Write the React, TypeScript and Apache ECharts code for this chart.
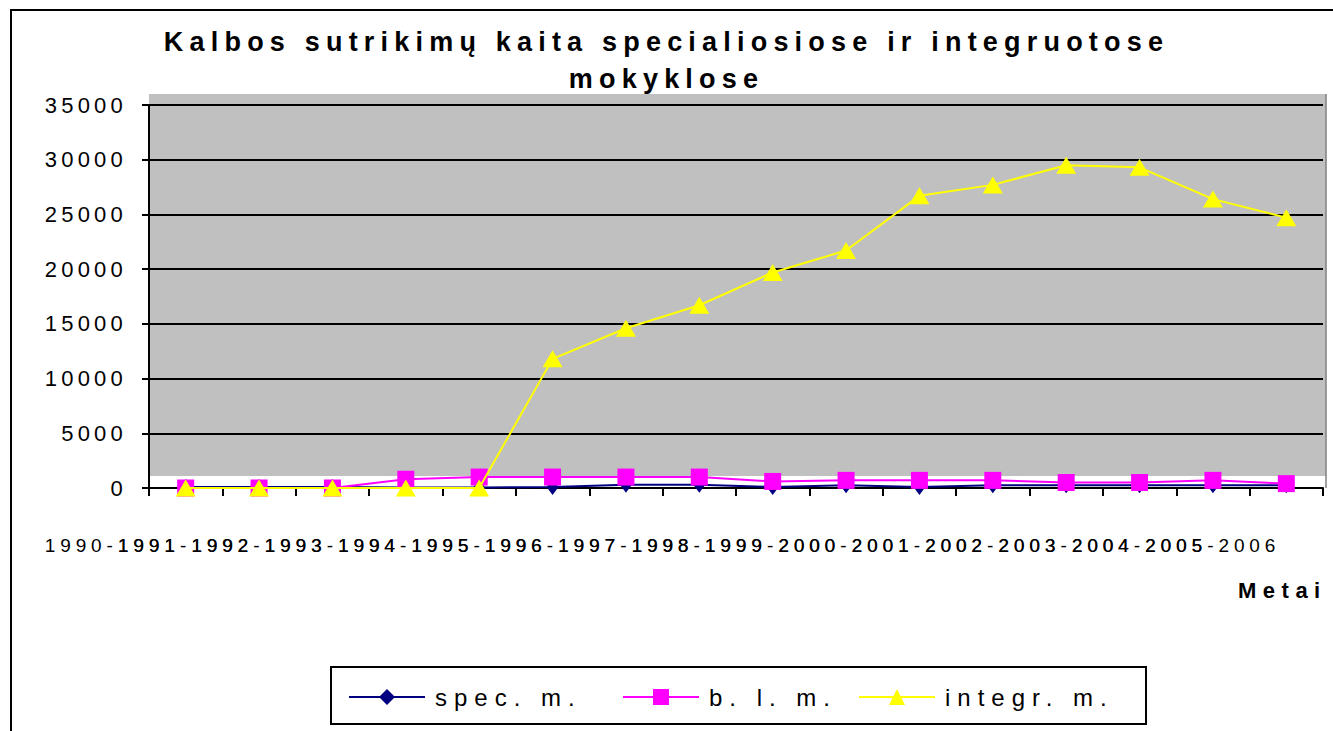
import React, { useEffect, useRef } from "react";
import * as echarts from "echarts";

const TITLE = "Kalbos sutrikimų kaita specialiosiose ir integruotose\nmokyklose";
const X_NAME = "Metai";
const CATEGORIES = [
  "1990-1991", "1991-1992", "1992-1993", "1993-1994", "1994-1995", "1995-1996",
  "1996-1997", "1997-1998", "1998-1999", "1999-2000", "2000-2001", "2001-2002",
  "2002-2003", "2003-2004", "2004-2005", "2005-2006",
];
const SERIES_NAMES = ["spec. m.", "b. l. m.", "integr. m."];
const SPEC = [100, 100, 100, 50, 50, 100, 300, 300, 100, 250, 100, 250, 250, 250, 250, 250];
const BLM = [0, 0, 0, 800, 1000, 1000, 1000, 1000, 600, 700, 700, 700, 500, 500, 700, 400];
const INTEGR = [0, 0, 0, 0, 0, 11800, 14600, 16700, 19700, 21700, 26700, 27700, 29500, 29300, 26400, 24700];
const Y_MIN = 0;
const Y_MAX = 35000;
const Y_STEP = 5000;

const FONT = "'Liberation Sans', Arial, sans-serif";

export default function App() {
  const ref = useRef<HTMLDivElement>(null);

  useEffect(() => {
    document.body.style.margin = "0";
    const el = ref.current!;
    const chart = echarts.init(el, null, { renderer: "svg" });

    const colors = ["#000080", "#FF00FF", "#FFFF00"];
    const symbols = ["diamond", "rect", "triangle"];
    const sizes: any[] = [[12, 16], 17, [20, 17]];
    const datas = [SPEC, BLM, INTEGR];
    const legendLeft = [348, 622, 858];

    const option: any = {
      animation: false,
      backgroundColor: "#fff",
      title: {
        text: TITLE,
        left: "center",
        top: 18,
        textStyle: {
          fontFamily: FONT,
          fontSize: 27,
          fontWeight: "bold",
          color: "#000",
          lineHeight: 37,
        },
      },
      grid: { left: 149, right: 10, top: 105, bottom: 243, containLabel: false },
      legend: SERIES_NAMES.map((name, i) => ({
        data: [name],
        left: legendLeft[i],
        top: 685,
        padding: 0,
        itemWidth: 76,
        itemHeight: 20,
        selectedMode: false,
        textStyle: { fontFamily: FONT, fontSize: 24, color: "#000", padding: [0, 0, 0, 5] },
      })),
      xAxis: {
        type: "category",
        data: CATEGORIES,
        boundaryGap: true,
        axisLine: { show: true, lineStyle: { color: "#000", width: 2 } },
        axisTick: { show: true, interval: 0, length: 8, lineStyle: { color: "#000", width: 2 } },
        axisLabel: {
          interval: 0,
          align: "right",
          margin: 48,
          fontFamily: FONT,
          fontSize: 19,
          color: "#000",
          hideOverlap: false,
          padding: [0, 6, 0, 0],
        },
        splitLine: { show: false },
      },
      yAxis: {
        type: "value",
        min: Y_MIN,
        max: Y_MAX,
        interval: Y_STEP,
        axisLine: { show: true, lineStyle: { color: "#000", width: 2 } },
        axisTick: { show: true, length: 7, lineStyle: { color: "#000", width: 2 } },
        axisLabel: {
          margin: 22,
          fontFamily: FONT,
          fontSize: 22,
          color: "#000",
          formatter: (v: number) => String(v),
        },
        splitLine: { show: true, lineStyle: { color: "#000", width: 2 } },
      },
      graphic: [
        {
          type: "rect",
          z: -10,
          silent: true,
          shape: { x: 149, y: 94, width: 1177, height: 382 },
          style: { fill: "#C0C0C0" },
        },
        {
          type: "line",
          z: -5,
          silent: true,
          shape: { x1: 1326, y1: 94, x2: 1326, y2: 488 },
          style: { stroke: "#808080", lineWidth: 1.5 },
        },
        {
          type: "rect",
          silent: true,
          shape: { x: 11, y: 10, width: 1400, height: 800 },
          style: { fill: "none", stroke: "#000", lineWidth: 2 },
        },
        {
          type: "rect",
          silent: true,
          shape: { x: 331, y: 667, width: 815, height: 57 },
          style: { fill: "none", stroke: "#000", lineWidth: 2 },
        },
        {
          type: "text",
          x: 1238,
          y: 590,
          style: {
            text: X_NAME,
            fontFamily: FONT,
            fontSize: 22,
            fontWeight: "bold",
            fill: "#000",
            verticalAlign: "middle",
          },
        },
      ],
      series: SERIES_NAMES.map((name, i) => ({
        name,
        type: "line",
        data: datas[i],
        symbol: symbols[i],
        symbolSize: sizes[i],
        showAllSymbol: true,
        color: colors[i],
        itemStyle: { color: colors[i] },
        lineStyle: { color: colors[i], width: 2 },
        z: 2 + i,
      })),
    };

    chart.setOption(option);

    const applySpacing = () => {
      el.querySelectorAll("text").forEach((t) => {
        const s = (t.textContent || "").trim();
        let ls = 0;
        if (/^\d{4}-\d{4}$/.test(s)) ls = 4.9;
        else if (/^\d+$/.test(s)) ls = 4.2;
        else if (s === X_NAME) ls = 6.5;
        else if (SERIES_NAMES.includes(s)) ls = 7;
        else if (s.length > 5) ls = 6.2;
        (t as SVGTextElement).style.letterSpacing = ls + "px";
      });
    };
    applySpacing();
    chart.on("finished", applySpacing);
    const timer = setTimeout(applySpacing, 50);

    return () => {
      clearTimeout(timer);
      chart.dispose();
    };
  }, []);

  return (
    <div
      ref={ref}
      style={{ position: "absolute", left: 0, top: 0, width: 1333, height: 731 }}
    />
  );
}
